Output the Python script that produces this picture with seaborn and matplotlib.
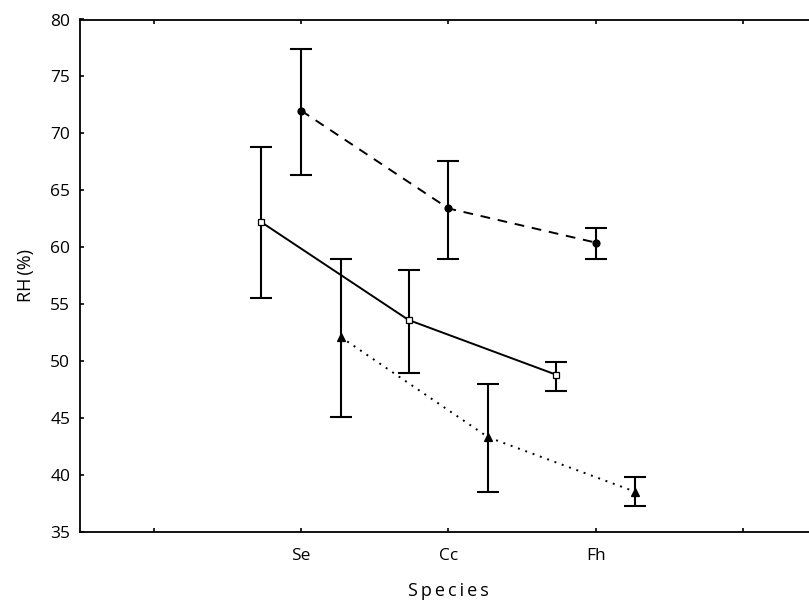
import matplotlib
matplotlib.use("Agg")
import matplotlib.pyplot as plt
import numpy as np
import pandas as pd
import seaborn as sns

# Species on the x axis (positions 1..3; 0 and 4 are empty padding ticks)
species = ["Se", "Cc", "Fh"]
species_pos = [1, 2, 3]
tick_pos = [0, 1, 2, 3, 4]
tick_labels = ["", "Se", "Cc", "Fh", ""]

# Mean RH (%) with lower / upper bounds of the error bars for each group
group_a_mean = [62.2, 53.6, 48.8]
group_a_low = [55.5, 48.9, 47.4]
group_a_high = [68.8, 58.0, 49.9]

group_b_mean = [72.0, 63.4, 60.4]
group_b_low = [66.3, 59.0, 59.0]
group_b_high = [77.4, 67.6, 61.7]

group_c_mean = [52.1, 43.3, 38.5]
group_c_low = [45.1, 38.5, 37.3]
group_c_high = [59.0, 48.0, 39.8]

y_ticks = [35, 40, 45, 50, 55, 60, 65, 70, 75, 80]

sns.set_style("ticks")
plt.rcParams["font.family"] = ["Open Sans", "DejaVu Sans"]

rows = []
for name, m, lo, hi in [("A", group_a_mean, group_a_low, group_a_high),
                        ("B", group_b_mean, group_b_low, group_b_high),
                        ("C", group_c_mean, group_c_low, group_c_high)]:
    for sp, p, v, l, h in zip(species, species_pos, m, lo, hi):
        rows.append({"group": name, "species": sp, "pos": p, "rh": v,
                     "low": l, "high": h})
df = pd.DataFrame(rows)

# horizontal dodge and drawing style of each group
styles = {
    "A": dict(offset=-0.27, marker="s", mfc="white", ms=5.0, ls="-"),
    "B": dict(offset=0.0, marker="o", mfc="black", ms=5.0, ls=(0, (5, 4))),
    "C": dict(offset=0.27, marker="^", mfc="black", ms=5.5, ls=(0, (1, 3))),
}

fig = plt.figure(figsize=(8.09, 6.03), dpi=100)
ax = fig.add_axes([80 / 809, (603 - 531.7) / 603, (816.7 - 80) / 809,
                   (531.7 - 19.5) / 603])

for name, st in styles.items():
    sub = df[df["group"] == name].copy()
    sub["x"] = sub["pos"] + st["offset"]
    ax.errorbar(sub["x"], sub["rh"],
                yerr=[sub["rh"] - sub["low"], sub["high"] - sub["rh"]],
                fmt="none", ecolor="black", elinewidth=1.5, capsize=8,
                capthick=1.5, zorder=2)
    sns.lineplot(data=sub, x="x", y="rh", ax=ax, color="black",
                 marker=st["marker"], markerfacecolor=st["mfc"],
                 markeredgecolor="black", markeredgewidth=0.9,
                 markersize=st["ms"], linestyle=st["ls"], linewidth=1.4,
                 zorder=3, legend=False)

ax.set_xlim(-0.5, 4.5)
ax.set_ylim(35, 80)
ax.set_xticks(tick_pos)
ax.set_xticklabels(tick_labels)
ax.set_yticks(y_ticks)
ax.tick_params(axis="both", direction="in", length=3, width=1.2,
               labelsize=12.5, colors="black", top=True, right=True)
ax.tick_params(axis="x", pad=12)
ax.tick_params(axis="y", pad=7)
for sp in ax.spines.values():
    sp.set_visible(True)
    sp.set_linewidth(1.3)
    sp.set_color("black")

ax.set_xlabel("S\u2009p\u2009e\u2009c\u2009i\u2009e\u2009s", fontsize=13,
              labelpad=13, color="black")
ax.set_ylabel("RH\u2009(%)", fontsize=13, labelpad=11, color="black")

fig.savefig("out.png", dpi=100)
